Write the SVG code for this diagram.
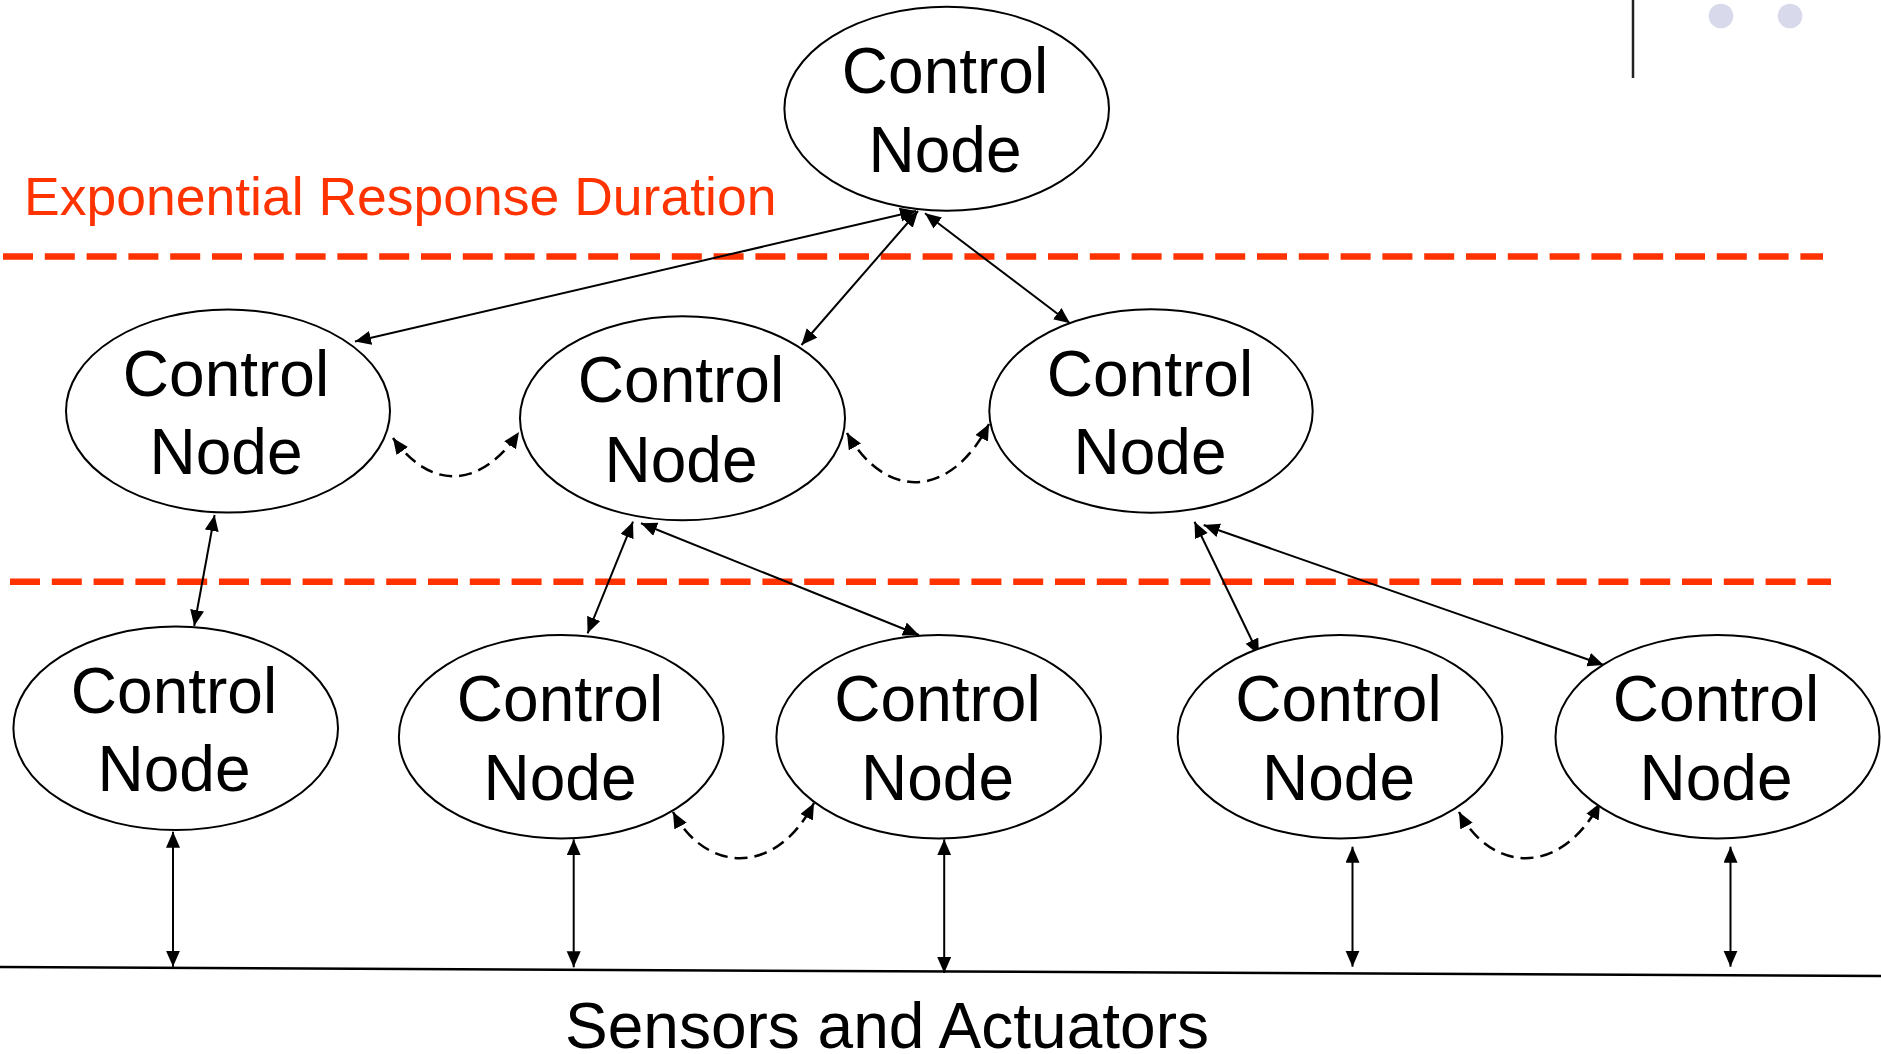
<svg xmlns="http://www.w3.org/2000/svg" width="1881" height="1054" viewBox="0 0 1881 1054">
  <style>
    .node ellipse { fill: #ffffff; stroke: #000000; stroke-width: 2; }
    .node text { font-family: "Liberation Sans", Arial, sans-serif; font-size: 64px; fill: #000000; text-anchor: middle; }
    .link { fill: none; stroke: #000000; stroke-width: 2; marker-start: url(#head); marker-end: url(#head); }
    .peer { fill: none; stroke: #000000; stroke-width: 2.5; stroke-dasharray: 13 7; marker-start: url(#head); marker-end: url(#head); }
    .tier { stroke: #ff3300; stroke-width: 6.5; stroke-dasharray: 30 11.8; }
    .label { font-family: "Liberation Sans", Arial, sans-serif; }
  </style>
  <defs>
    <marker id="head" markerUnits="userSpaceOnUse" markerWidth="17" markerHeight="15" refX="16" refY="7" orient="auto-start-reverse">
      <path d="M0,0 L16,7 L0,14 z" fill="#000000"/>
    </marker>
  </defs>

  <rect width="1881" height="1054" fill="#ffffff"/>

  <!-- corner decoration -->
  <line x1="1633" y1="0" x2="1633" y2="78" stroke="#222222" stroke-width="2.5"/>
  <circle cx="1721" cy="16" r="12.3" fill="#d9d9ec"/>
  <circle cx="1790" cy="16" r="12.3" fill="#d9d9ec"/>

  <!-- tier boundaries -->
  <line class="tier" x1="3" y1="256.5" x2="1823" y2="256.5"/>
  <line class="tier" x1="10" y1="581.7" x2="1831" y2="581.7"/>
  <text class="label" x="24" y="215" font-size="53.5" fill="#ff3300">Exponential Response Duration</text>

  <!-- sensor/actuator bus -->
  <line x1="0" y1="967" x2="1881" y2="976" stroke="#000000" stroke-width="2.5"/>
  <text class="label" x="565" y="1048" font-size="64" fill="#000000">Sensors and Actuators</text>

  <g id="connectors">
    <!-- hierarchy links -->
    <line class="link" x1="916" y1="211" x2="355" y2="341.5"/>
    <line class="link" x1="918" y1="211" x2="801.5" y2="345"/>
    <line class="link" x1="925" y1="213.3" x2="1070" y2="323.3"/>
    <line class="link" x1="214.6" y1="515" x2="194.2" y2="626"/>
    <line class="link" x1="633" y1="521.7" x2="587.6" y2="633.3"/>
    <line class="link" x1="641" y1="523.3" x2="919" y2="635"/>
    <line class="link" x1="1194.5" y1="521.7" x2="1258.9" y2="655"/>
    <line class="link" x1="1203.7" y1="525" x2="1603.7" y2="665"/>
    <!-- field links -->
    <line class="link" x1="173" y1="831.7" x2="173" y2="966.7"/>
    <line class="link" x1="573.7" y1="839.3" x2="573.7" y2="967.3"/>
    <line class="link" x1="944.2" y1="839.3" x2="944.2" y2="973"/>
    <line class="link" x1="1352.5" y1="846.7" x2="1352.5" y2="966.7"/>
    <line class="link" x1="1730.5" y1="846.7" x2="1730.5" y2="966.7"/>
    <!-- peer links -->
    <path class="peer" d="M393,438 C430,490 480,490 519,432"/>
    <path class="peer" d="M847,433 C885,500 950,500 989,424"/>
    <path class="peer" d="M673,812 C705,872 775,878 814,803"/>
    <path class="peer" d="M1459,812 C1491,872 1560,878 1600,803"/>
  </g>

  <g id="node-root" class="node">
    <ellipse cx="946.7" cy="108.7" rx="162.3" ry="102"/>
    <text x="945" y="93.3">Control</text>
    <text x="945" y="171.7">Node</text>
  </g>
  <g id="node-mid-left" class="node">
    <ellipse cx="228" cy="411" rx="162" ry="101.5"/>
    <text x="226" y="395.5">Control</text>
    <text x="226" y="474">Node</text>
  </g>
  <g id="node-mid-center" class="node">
    <ellipse cx="682.5" cy="418.3" rx="162.5" ry="102"/>
    <text x="681" y="402">Control</text>
    <text x="681" y="481.5">Node</text>
  </g>
  <g id="node-mid-right" class="node">
    <ellipse cx="1151" cy="411" rx="161.7" ry="101.7"/>
    <text x="1150" y="396">Control</text>
    <text x="1150" y="473.5">Node</text>
  </g>
  <g id="node-leaf-1" class="node">
    <ellipse cx="175.7" cy="728.3" rx="162.3" ry="101.7"/>
    <text x="174" y="713.3">Control</text>
    <text x="174" y="791">Node</text>
  </g>
  <g id="node-leaf-2" class="node">
    <ellipse cx="561.2" cy="736.7" rx="162.3" ry="101.7"/>
    <text x="560" y="721">Control</text>
    <text x="560" y="799.5">Node</text>
  </g>
  <g id="node-leaf-3" class="node">
    <ellipse cx="938.7" cy="736.7" rx="162.3" ry="101.7"/>
    <text x="937.5" y="721">Control</text>
    <text x="937.5" y="799.5">Node</text>
  </g>
  <g id="node-leaf-4" class="node">
    <ellipse cx="1340" cy="736.7" rx="162.3" ry="101.7"/>
    <text x="1338.5" y="721">Control</text>
    <text x="1338.5" y="799.5">Node</text>
  </g>
  <g id="node-leaf-5" class="node">
    <ellipse cx="1717.5" cy="736.7" rx="162" ry="101.7"/>
    <text x="1716" y="721">Control</text>
    <text x="1716" y="799.5">Node</text>
  </g>
</svg>
